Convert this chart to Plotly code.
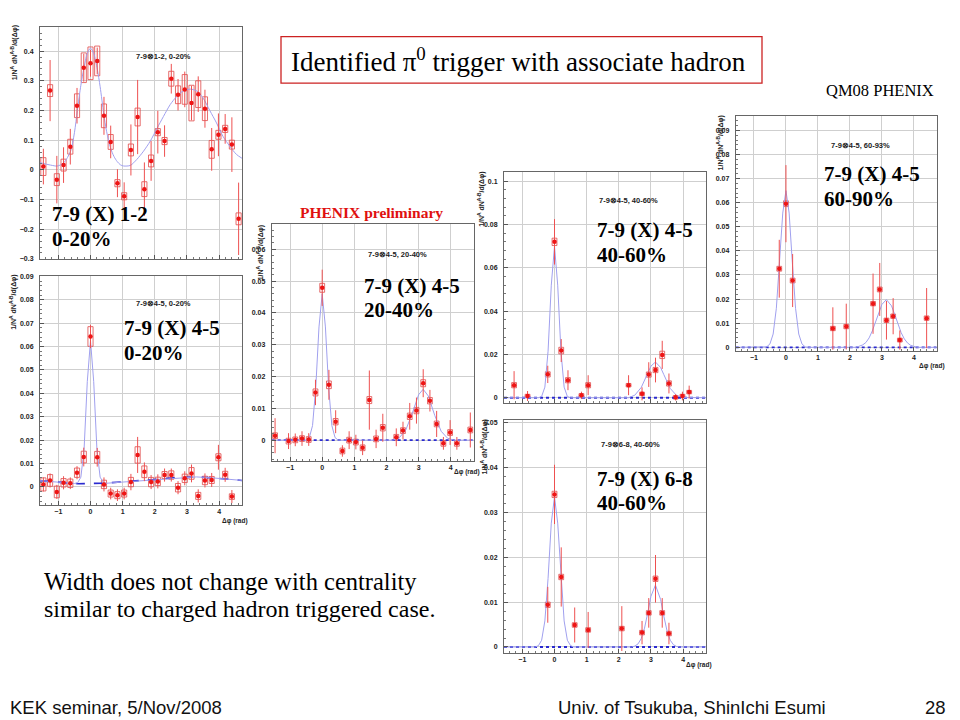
import plotly.graph_objects as go

W, H = 960, 720

# ---------------- data ----------------
# Panel 1 : 7-9 (X) 1-2, 0-20%
p1_x = [-1.466, -1.257, -1.047, -0.838, -0.628, -0.419, -0.209, 0.0, 0.209, 0.419,
        0.628, 0.838, 1.047, 1.257, 1.466, 1.676, 1.885, 2.094, 2.304, 2.513,
        2.723, 2.932, 3.142, 3.351, 3.560, 3.770, 3.979, 4.189, 4.398, 4.607]
p1_y = [0.011, 0.267, -0.033, 0.016, 0.078, 0.216, 0.344, 0.359, 0.367, 0.182,
        0.094, -0.045, -0.089, 0.067, 0.178, -0.065, 0.030, 0.127, 0.097, 0.307,
        0.253, 0.271, 0.225, 0.255, 0.206, 0.069, 0.118, 0.138, 0.085, -0.165]
p1_err = [0.060, 0.103, 0.080, 0.060, 0.060, 0.060, 0.047, 0.045, 0.045, 0.064,
          0.055, 0.047, 0.047, 0.086, 0.125, 0.090, 0.067, 0.072, 0.053, 0.050,
          0.053, 0.060, 0.058, 0.060, 0.064, 0.072, 0.072, 0.050, 0.092, 0.122]
p1_sys = [0.030, 0.020, 0.020, 0.020, 0.025, 0.040, 0.050, 0.055, 0.050, 0.040,
          0.025, 0.012, 0.012, 0.020, 0.030, 0.025, 0.020, 0.012, 0.012, 0.025,
          0.030, 0.050, 0.060, 0.045, 0.040, 0.030, 0.015, 0.012, 0.015, 0.020]
p1_fit_x = [-1.571, -1.24, -1.03, -0.83, -0.62, -0.50, -0.41, -0.30, -0.21, -0.10, 0.0,
            0.10, 0.21, 0.30, 0.41, 0.50, 0.62, 0.73, 0.83, 0.93, 1.03, 1.24, 1.44, 1.65,
            1.86, 2.07, 2.27, 2.48, 2.68, 2.89, 3.10, 3.30, 3.50, 3.71, 3.92, 4.12, 4.33,
            4.54, 4.712]
p1_fit_y = [0.024, 0.016, 0.013, 0.024, 0.063, 0.125, 0.200, 0.285, 0.340, 0.392, 0.410,
            0.392, 0.340, 0.280, 0.190, 0.130, 0.075, 0.045, 0.028, 0.017, 0.013, 0.015,
            0.035, 0.063, 0.097, 0.140, 0.180, 0.220, 0.247, 0.266, 0.272, 0.266, 0.242,
            0.200, 0.158, 0.113, 0.080, 0.052, 0.039]

# Panel 2 : 7-9 (X) 4-5, 0-20%
p2_x = [-1.466, -1.257, -1.047, -0.838, -0.628, -0.419, -0.209, 0.0, 0.209, 0.419,
        0.628, 0.838, 1.047, 1.257, 1.466, 1.676, 1.885, 2.094, 2.304, 2.513,
        2.723, 2.932, 3.142, 3.351, 3.560, 3.770, 3.979, 4.189, 4.398]
p2_y = [0.0011, 0.0028, -0.0021, 0.0018, 0.0016, 0.0061, 0.0128, 0.0643, 0.0127, 0.0011,
        -0.0028, -0.0035, -0.0028, 0.0021, 0.0137, 0.0065, 0.0021, 0.0024, 0.0051, 0.0051,
        -0.0003, 0.0037, 0.0058, -0.0038, 0.0028, 0.0030, 0.0127, 0.0052, -0.0041]
p2_err = [0.0030, 0.0030, 0.0030, 0.0028, 0.0025, 0.0028, 0.0040, 0.0050, 0.0040, 0.0030,
          0.0025, 0.0025, 0.0025, 0.0035, 0.0077, 0.0040, 0.0030, 0.0030, 0.0028, 0.0028,
          0.0028, 0.0030, 0.0038, 0.0028, 0.0030, 0.0030, 0.0053, 0.0030, 0.0028]
p2_sys = [0.0028, 0.0025, 0.0025, 0.0018, 0.0018, 0.0020, 0.0025, 0.0042, 0.0025, 0.0018,
          0.0015, 0.0015, 0.0015, 0.0020, 0.0035, 0.0025, 0.0020, 0.0018, 0.0015, 0.0018,
          0.0018, 0.0018, 0.0025, 0.0015, 0.0018, 0.0015, 0.0015, 0.0015, 0.0012]
p2_fit_x = [-1.571, -1.0, -0.5, -0.4, -0.3, -0.2, -0.1, 0.0, 0.1, 0.2, 0.3, 0.4, 0.5,
            1.0, 1.5, 2.0, 2.5, 3.0, 3.3, 3.8, 4.3, 4.712]
p2_fit_y = [0.0027, 0.0020, 0.0015, 0.0018, 0.0042, 0.0160, 0.0450, 0.0625, 0.0450, 0.0160,
            0.0042, 0.0019, 0.0016, 0.0021, 0.0026, 0.0032, 0.0038, 0.0043, 0.0043, 0.0039,
            0.0033, 0.0028]
p2_bg_x = [-1.571, -1.0, -0.4, 0.4, 1.0, 1.5, 2.0, 2.5, 3.0, 3.3, 3.8, 4.3, 4.712]
p2_bg_y = [0.0027, 0.0020, 0.0014, 0.0016, 0.0021, 0.0026, 0.0032, 0.0038, 0.0043, 0.0043,
           0.0039, 0.0033, 0.0028]

# Panel 3 : 7-9 (X) 4-5, 20-40%
p3_x = [-1.466, -1.047, -0.838, -0.628, -0.419, -0.209, 0.0, 0.209, 0.419, 0.628,
        0.838, 1.047, 1.257, 1.466, 1.676, 1.885, 2.304, 2.513, 2.723, 2.932,
        3.142, 3.351, 3.560, 3.770, 3.979, 4.189, 4.607]
p3_y = [0.0014, -0.0003, 0.0001, 0.0005, 0.0002, 0.0150, 0.0479, 0.0174, 0.0058, -0.0034,
        0.0000, -0.0006, -0.0024, 0.0126, 0.0004, 0.0039, 0.0009, 0.0030, 0.0075, 0.0093,
        0.0179, 0.0124, 0.0051, -0.0010, 0.0024, -0.0010, 0.0032]
p3_err = [0.0055, 0.0025, 0.0020, 0.0023, 0.0020, 0.0040, 0.0057, 0.0047, 0.0036, 0.0018,
          0.0028, 0.0023, 0.0023, 0.0093, 0.0029, 0.0044, 0.0028, 0.0028, 0.0042, 0.0041,
          0.0044, 0.0034, 0.0041, 0.0020, 0.0039, 0.0020, 0.0055]
p3_sys = [0.0009, 0.0009, 0.0009, 0.0009, 0.0009, 0.0011, 0.0014, 0.0012, 0.0010, 0.0009,
          0.0009, 0.0009, 0.0009, 0.0011, 0.0009, 0.0010, 0.0009, 0.0009, 0.0010, 0.0010,
          0.0011, 0.0010, 0.0009, 0.0009, 0.0009, 0.0009, 0.0009]
p3_fit_x = [-1.571, -0.5, -0.4, -0.3, -0.2, -0.1, 0.0, 0.1, 0.2, 0.3, 0.4, 0.5,
            2.2, 2.4, 2.6, 2.8, 3.0, 3.14, 3.3, 3.5, 3.7, 3.9, 4.1, 4.712]
p3_fit_y = [0.0, 0.0, 0.0008, 0.0046, 0.0166, 0.0356, 0.0460, 0.0356, 0.0166, 0.0046, 0.0008, 0.0,
            0.0, 0.0008, 0.0032, 0.0084, 0.0143, 0.0160, 0.0139, 0.0078, 0.0028, 0.0006, 0.0, 0.0]

# Panel 4 : 7-9 (X) 4-5, 40-60%
p4_x = [-1.257, -0.838, -0.209, 0.0, 0.209, 0.419, 0.838, 1.047, 2.304, 2.723,
        2.932, 3.142, 3.351, 3.560, 3.770, 3.979, 4.189]
p4_y = [0.0058, 0.0008, 0.0108, 0.0720, 0.0218, 0.0081, 0.0011, 0.0058, 0.0058, 0.0018,
        0.0107, 0.0128, 0.0198, 0.0066, 0.0002, 0.0008, 0.0026]
p4_err = [0.0065, 0.0023, 0.0040, 0.0105, 0.0053, 0.0046, 0.0017, 0.0046, 0.0046, 0.0030,
          0.0057, 0.0057, 0.0065, 0.0046, 0.0015, 0.0020, 0.0030]
p4_sys = [0.0012, 0.0008, 0.0012, 0.0017, 0.0015, 0.0012, 0.0008, 0.0012, 0.0008, 0.0008,
          0.0012, 0.0012, 0.0017, 0.0012, 0.0008, 0.0008, 0.0008]
p4_fit_x = [-1.571, -0.5, -0.4, -0.3, -0.2, -0.1, 0.0, 0.1, 0.2, 0.3, 0.4, 0.5,
            2.3, 2.5, 2.7, 2.9, 3.0, 3.14, 3.3, 3.4, 3.6, 3.8, 4.0, 4.712]
p4_fit_y = [0.0, 0.0, 0.0006, 0.0049, 0.0215, 0.0520, 0.0700, 0.0520, 0.0215, 0.0049, 0.0006, 0.0,
            0.0, 0.0012, 0.0048, 0.0114, 0.0146, 0.0165, 0.0140, 0.0107, 0.0043, 0.0010, 0.0001, 0.0]

# Panel 5 : 7-9 (X) 6-8, 40-60%
p5_x = [-0.209, 0.0, 0.209, 0.628, 1.047, 2.094, 2.723, 2.932, 3.142, 3.351, 3.560]
p5_y = [0.0094, 0.0340, 0.0156, 0.0049, 0.0038, 0.0041, 0.0032, 0.0076, 0.0152, 0.0076, 0.0030]
p5_err = [0.0040, 0.0066, 0.0066, 0.0039, 0.0040, 0.0050, 0.0026, 0.0033, 0.0053, 0.0033, 0.0024]
p5_sys = [0.0006, 0.0007, 0.0006, 0.0005, 0.0005, 0.0005, 0.0005, 0.0005, 0.0006, 0.0005, 0.0005]
p5_fit_x = [-1.571, -0.6, -0.5, -0.4, -0.3, -0.2, -0.1, 0.0, 0.1, 0.2, 0.3, 0.4, 0.5, 0.6,
            2.4, 2.5, 2.6, 2.7, 2.8, 2.9, 3.0, 3.14, 3.3, 3.4, 3.5, 3.6, 3.7, 3.8, 3.9, 4.712]
p5_fit_y = [0.0, 0.0, 0.0003, 0.0015, 0.0058, 0.0153, 0.0276, 0.0335, 0.0276, 0.0153, 0.0058,
            0.0015, 0.0003, 0.0, 0.0, 0.0002, 0.0007, 0.0019, 0.0042, 0.0076, 0.0113, 0.0138,
            0.0106, 0.0069, 0.0036, 0.0015, 0.0005, 0.0001, 0.0, 0.0]

# Panel 6 : 7-9 (X) 4-5, 60-90%
p6_x = [-0.209, 0.0, 0.209, 1.466, 1.885, 2.723, 2.932, 3.142, 3.351, 3.560, 4.398]
p6_y = [0.0326, 0.0596, 0.0277, 0.0078, 0.0086, 0.0181, 0.0240, 0.0112, 0.0129, 0.0030, 0.0121]
p6_err = [0.0120, 0.0160, 0.0110, 0.0088, 0.0095, 0.0125, 0.0110, 0.0080, 0.0075, 0.0040, 0.0125]
p6_sys = [0.0010, 0.0012, 0.0010, 0.0009, 0.0009, 0.0009, 0.0010, 0.0009, 0.0009, 0.0008, 0.0009]
p6_fit_x = [-1.571, -0.7, -0.6, -0.5, -0.4, -0.3, -0.2, -0.1, 0.0, 0.1, 0.2, 0.3, 0.4, 0.5,
            0.6, 0.7, 2.2, 2.3, 2.4, 2.5, 2.6, 2.7, 2.8, 2.9, 3.0, 3.14, 3.3, 3.4, 3.5,
            3.6, 3.7, 3.8, 3.9, 4.0, 4.1, 4.712]
p6_fit_y = [0.0, 0.0, 0.0002, 0.0014, 0.0055, 0.0162, 0.0351, 0.0557, 0.0650, 0.0557, 0.0351,
            0.0162, 0.0055, 0.0014, 0.0002, 0.0, 0.0, 0.0004, 0.0010, 0.0020, 0.0039, 0.0068,
            0.0104, 0.0144, 0.0178, 0.0198, 0.0172, 0.0136, 0.0096, 0.0061, 0.0035, 0.0018,
            0.0008, 0.0003, 0.0, 0.0]

base_x = [-1.571, 4.712]
base_y = [0.0, 0.0]

x_ticks = [-1, 0, 1, 2, 3, 4]
x_range = [-1.5708, 4.7124]

small_titles = ["7-9\u22971-2, 0-20%", "7-9\u22974-5, 0-20%", "7-9\u22974-5, 20-40%",
                "7-9\u22974-5, 40-60%", "7-9\u22976-8, 40-60%", "7-9\u22974-5, 60-93%"]
big_line1 = ["7-9 (X) 1-2", "7-9 (X) 4-5", "7-9 (X) 4-5", "7-9 (X) 4-5", "7-9 (X) 6-8", "7-9 (X) 4-5"]
big_line2 = ["0-20%", "0-20%", "20-40%", "40-60%", "40-60%", "60-90%"]

# ---------------- layout geometry (pixels on the 960x720 slide) ----------------
panels = [
    dict(px=(40, 242), py=(23, 258), yr=[-0.302, 0.482], dt=0.1, xl=False),
    dict(px=(40, 242), py=(275, 505.7), yr=[-0.0076, 0.09], dt=0.01, xl=True),
    dict(px=(271.7, 473.7), py=(221.7, 461), yr=[-0.0064, 0.0681], dt=0.01, xl=True),
    dict(px=(504, 706), py=(170, 403.3), yr=[-0.0026, 0.1041], dt=0.02, xl=False),
    dict(px=(504, 706), py=(420, 655), yr=[-0.00126, 0.0506], dt=0.01, xl=True),
    dict(px=(735.7, 936.7), py=(113.3, 350), yr=[-0.00137, 0.0959], dt=0.01, xl=True),
]

data = [
    (p1_x, p1_y, p1_err, p1_sys, p1_fit_x, p1_fit_y),
    (p2_x, p2_y, p2_err, p2_sys, p2_fit_x, p2_fit_y),
    (p3_x, p3_y, p3_err, p3_sys, p3_fit_x, p3_fit_y),
    (p4_x, p4_y, p4_err, p4_sys, p4_fit_x, p4_fit_y),
    (p5_x, p5_y, p5_err, p5_sys, p5_fit_x, p5_fit_y),
    (p6_x, p6_y, p6_err, p6_sys, p6_fit_x, p6_fit_y),
]

def fx(px):
    return px / W

def fy(py):
    return 1 - py / H

RED = "#ee1515"
FIT = "#a0a0ee"
BASE = "#2a2ad0"

fig = go.Figure()
layout = dict(width=W, height=H, margin=dict(l=0, r=0, t=0, b=0), autosize=False,
              paper_bgcolor="white", plot_bgcolor="white", showlegend=False,
              barmode="overlay")

tickfont = dict(family="Liberation Sans, Arial", size=7, color="#222", weight="bold")

for i, (pn, d) in enumerate(zip(panels, data)):
    n = "" if i == 0 else str(i + 1)
    xa, ya = "x" + n, "y" + n
    xs, ys, err, sys_, fx_, fy_ = d
    fig.add_trace(go.Bar(x=xs, y=[2 * s for s in sys_], base=[v - s for v, s in zip(ys, sys_)],
                         width=0.15 if i > 1 else 0.16,
                         marker=dict(color="rgba(0,0,0,0)", line=dict(color="#e04848", width=0.8)),
                         xaxis=xa, yaxis=ya, hoverinfo="skip"))
    if i == 1:
        fig.add_trace(go.Scatter(x=p2_bg_x, y=p2_bg_y, mode="lines",
                                 line=dict(color=BASE, width=1.6, dash="dash"),
                                 xaxis=xa, yaxis=ya))
    elif i > 1:
        fig.add_trace(go.Scatter(x=base_x, y=base_y, mode="lines",
                                 line=dict(color=BASE, width=1.8, dash="dot"),
                                 xaxis=xa, yaxis=ya))
    fig.add_trace(go.Scatter(x=fx_, y=fy_, mode="lines",
                             line=dict(color=FIT, width=1, shape="spline" if i == 0 else "linear",
                                       smoothing=0.8),
                             xaxis=xa, yaxis=ya))
    fig.add_trace(go.Scatter(x=xs, y=ys, mode="markers",
                             marker=dict(color=RED, size=4.5),
                             error_y=dict(type="data", array=err, color="#ee5050", thickness=1, width=0),
                             xaxis=xa, yaxis=ya))

    x0, x1 = pn["px"]
    yt, yb = pn["py"]
    layout["xaxis" + n] = dict(domain=[fx(x0), fx(x1)], range=x_range, anchor=ya,
                               tickvals=x_ticks, showticklabels=pn["xl"], tickfont=tickfont,
                               showgrid=True, gridcolor="#cfcfcf", gridwidth=1, zeroline=False,
                               showline=True, mirror=True, linecolor="#666", linewidth=1,
                               ticks="inside", ticklen=4, tickcolor="#555",
                               minor=dict(ticks="inside", ticklen=2, dtick=0.2, tickcolor="#777"))
    layout["yaxis" + n] = dict(domain=[fy(yb), fy(yt)], range=pn["yr"], anchor=xa,
                               dtick=pn["dt"], tick0=0, tickfont=tickfont,
                               showgrid=True, gridcolor="#cfcfcf", gridwidth=1, zeroline=False,
                               showline=True, mirror=True, linecolor="#666", linewidth=1,
                               ticks="inside", ticklen=4, tickcolor="#555", ticklabelstandoff=4,
                               minor=dict(ticks="inside", ticklen=2, dtick=pn["dt"] / 5, tickcolor="#777"))

# ---------------- annotations ----------------
ann = []

def text(px, py, s, size, family="Liberation Serif, Times New Roman", color="black",
         xanchor="left", yanchor="middle", angle=0, weight="normal"):
    ann.append(dict(x=fx(px), y=fy(py), xref="paper", yref="paper", text=s, showarrow=False,
                    xanchor=xanchor, yanchor=yanchor, textangle=angle,
                    font=dict(family=family, size=size, color=color, weight=weight)))

small_pos = [(163, 53), (163, 302), (397, 253), (628, 198), (630, 445), (860, 143)]
big_pos = [(50, 212, 237), (122, 327, 352), (362, 285, 309), (595, 228, 253),
           (595, 480, 504), (822, 172, 197)]
ytitle_pos = [(14, 20), (14, 272), (260, 222), (482, 168), (484, 418), (720, 111)]
xtitle_pos = [None, (250, 522), (482, 473), None, (714, 667), (947, 366)]

for i in range(6):
    text(small_pos[i][0], small_pos[i][1], small_titles[i], 7.5,
         family="Liberation Sans, Arial", xanchor="center", weight="bold", color="#222")
    bx, by1, by2 = big_pos[i]
    text(bx, by1, big_line1[i], 21, weight="bold")
    text(bx, by2, big_line2[i], 21, weight="bold")
    tx, ty = ytitle_pos[i]
    text(tx, ty, "1/N<sup>A</sup> dN<sup>A-B</sup>/d(\u0394\u03c6)", 7,
         family="Liberation Sans, Arial", xanchor="center", yanchor="top", angle=-90,
         weight="bold", color="#222")
    if xtitle_pos[i]:
        text(xtitle_pos[i][0], xtitle_pos[i][1], "\u0394\u03c6 (rad)", 6.5,
             family="Liberation Sans, Arial", xanchor="right", weight="bold", color="#222")

# slide texts
text(289, 57, "Identified \u03c0<sup>0</sup> trigger with associate hadron", 27)
text(880, 87, "QM08 PHENIX", 16.5, xanchor="center")
text(371, 211, "PHENIX preliminary", 15.5, color="#e01010", xanchor="center", weight="bold")
text(42, 583, "Width does not change with centrality", 24.5)
text(42, 611, "similar to charged hadron triggered case.", 24)
text(8, 710, "KEK seminar, 5/Nov/2008", 18.5, family="Liberation Sans, Arial", color="#111")
text(556, 710, "Univ. of Tsukuba, ShinIchi Esumi", 18.5, family="Liberation Sans, Arial", color="#111")
text(948, 710, "28", 18.5, family="Liberation Sans, Arial", xanchor="right", color="#111")

layout["annotations"] = ann
layout["shapes"] = [dict(type="rect", xref="paper", yref="paper",
                         x0=fx(281), x1=fx(762), y0=fy(80), y1=fy(33),
                         line=dict(color="#cc2222", width=1.3), fillcolor="rgba(0,0,0,0)")]

fig.update_layout(**layout)
fig.write_html("out.html", config={"displayModeBar": False},
               post_script="document.body.style.margin='0';document.body.style.overflow='hidden';")
